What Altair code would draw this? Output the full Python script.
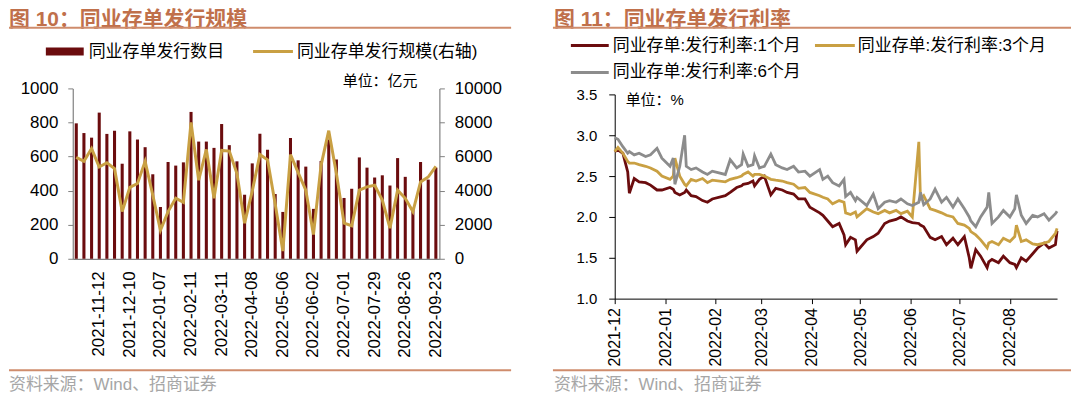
import altair as alt
import pandas as pd

# ---------------- data: 图10 ----------------
bar_dates = ["2021-10-22", "2021-10-29", "2021-11-05", "2021-11-12", "2021-11-19", "2021-11-26",
             "2021-12-03", "2021-12-10", "2021-12-17", "2021-12-24", "2021-12-31", "2022-01-07",
             "2022-01-14", "2022-01-21", "2022-01-28", "2022-02-11", "2022-02-18", "2022-02-25",
             "2022-03-04", "2022-03-11", "2022-03-18", "2022-03-25", "2022-04-01", "2022-04-08",
             "2022-04-15", "2022-04-22", "2022-04-29", "2022-05-06", "2022-05-13", "2022-05-20",
             "2022-05-27", "2022-06-02", "2022-06-10", "2022-06-17", "2022-06-24", "2022-07-01",
             "2022-07-08", "2022-07-15", "2022-07-22", "2022-07-29", "2022-08-05", "2022-08-12",
             "2022-08-19", "2022-08-26", "2022-09-02", "2022-09-09", "2022-09-16", "2022-09-23"]
bar_counts = [795, 738, 711, 858, 733, 752, 558, 748, 700, 655, 496, 304,
              568, 547, 566, 862, 688, 688, 651, 791, 667, 572, 376, 560,
              734, 640, 380, 275, 709, 578, 541, 293, 574, 700, 583, 357,
              411, 595, 535, 477, 490, 430, 591, 481, 290, 568, 465, 535]
bar_scale = [5950, 5720, 6470, 5390, 5640, 5290, 2770, 4190, 4420, 5720, 3740, 1670,
             2770, 3550, 3310, 8000, 4610, 6420, 3550, 6360, 6320, 5000, 2090, 3970,
             6120, 5810, 3220, 450, 6120, 5060, 4030, 1420, 5500, 7520, 5000, 2090,
             1940, 4030, 4220, 4320, 3450, 1800, 4030, 3550, 2770, 4510, 4800, 5430]
bar_labels = ["2021-11-12", "2021-12-10", "2022-01-07", "2022-02-11", "2022-03-11", "2022-04-08",
              "2022-05-06", "2022-06-02", "2022-07-01", "2022-07-29", "2022-08-26", "2022-09-23"]

# ---------------- data: 图11 ----------------
rate_dates = ["2021-12-01", "2021-12-03", "2021-12-06", "2021-12-09", "2021-12-10", "2021-12-13",
              "2021-12-16", "2021-12-20", "2021-12-23", "2021-12-27", "2021-12-30",
              "2022-01-04", "2022-01-06", "2022-01-07", "2022-01-10", "2022-01-13", "2022-01-14",
              "2022-01-17", "2022-01-20", "2022-01-24", "2022-01-27", "2022-01-30",
              "2022-02-07", "2022-02-10", "2022-02-14", "2022-02-17", "2022-02-18", "2022-02-21",
              "2022-02-24", "2022-02-25", "2022-02-28",
              "2022-03-03", "2022-03-07", "2022-03-10", "2022-03-14", "2022-03-17", "2022-03-21",
              "2022-03-24", "2022-03-28", "2022-03-31",
              "2022-04-06", "2022-04-08", "2022-04-11", "2022-04-14", "2022-04-18", "2022-04-21",
              "2022-04-22", "2022-04-25", "2022-04-28", "2022-04-29",
              "2022-05-05", "2022-05-09", "2022-05-12", "2022-05-16", "2022-05-19", "2022-05-23",
              "2022-05-26", "2022-05-30",
              "2022-06-02", "2022-06-06", "2022-06-07", "2022-06-09", "2022-06-13", "2022-06-16",
              "2022-06-20", "2022-06-23", "2022-06-27", "2022-06-30",
              "2022-07-04", "2022-07-07", "2022-07-08", "2022-07-11", "2022-07-14", "2022-07-18",
              "2022-07-19", "2022-07-21", "2022-07-25", "2022-07-28",
              "2022-08-01", "2022-08-04", "2022-08-05", "2022-08-08", "2022-08-11", "2022-08-15",
              "2022-08-18", "2022-08-22", "2022-08-25", "2022-08-29", "2022-08-30"]
rate_1m = [2.80, 2.82, 2.78, 2.55, 2.29, 2.47, 2.43, 2.42, 2.39, 2.33, 2.33,
           2.36, 2.34, 2.30, 2.27, 2.30, 2.33, 2.26, 2.25, 2.20, 2.18, 2.22,
           2.26, 2.30, 2.36, 2.38, 2.40, 2.41, 2.44, 2.38, 2.46,
           2.50, 2.27, 2.35, 2.33, 2.30, 2.28, 2.22, 2.22, 2.12,
           2.05, 2.02, 1.95, 1.88, 1.92, 1.78, 1.66, 1.75, 1.72, 1.58,
           1.72, 1.76, 1.80, 1.92, 1.95, 1.97, 2.00, 1.95,
           1.93, 1.92, 1.90, 1.88, 1.75, 1.72, 1.76, 1.66, 1.74, 1.66,
           1.76, 1.50, 1.37, 1.60, 1.52, 1.38, 1.45, 1.48, 1.44, 1.52,
           1.44, 1.42, 1.38, 1.50, 1.46, 1.55, 1.62, 1.68, 1.62, 1.66, 1.83]
rate_3m = [2.80, 2.85, 2.78, 2.68, 2.66, 2.66, 2.64, 2.62, 2.60, 2.56, 2.50,
           2.46, 2.50, 2.72, 2.50, 2.40, 2.38, 2.46, 2.44, 2.47, 2.42, 2.45,
           2.43, 2.46, 2.48, 2.50, 2.52, 2.55, 2.50, 2.52, 2.52,
           2.50, 2.46, 2.45, 2.44, 2.42, 2.40, 2.35, 2.36, 2.30,
           2.26, 2.24, 2.22, 2.16, 2.20, 2.18, 2.05, 2.03, 2.06, 2.00,
           2.10, 2.06, 2.04, 2.08, 2.05, 2.08, 2.04, 2.07,
           2.00, 2.92, 2.22, 2.26, 2.10, 2.08, 2.05, 2.02, 2.00, 1.92,
           1.90, 1.86, 1.82, 1.78, 1.72, 1.62, 1.68, 1.70, 1.66, 1.74,
           1.70, 1.76, 1.90, 1.70, 1.72, 1.67, 1.66, 1.68, 1.70, 1.80, 1.86]
rate_6m = [2.97, 2.95, 2.86, 2.78, 2.80, 2.76, 2.78, 2.74, 2.76, 2.84, 2.72,
           2.62, 2.72, 2.40, 2.62, 3.00, 2.62, 2.58, 2.60, 2.55, 2.52, 2.56,
           2.52, 2.70, 2.60, 2.64, 2.77, 2.62, 2.64, 2.75, 2.60,
           2.62, 2.77, 2.64, 2.60, 2.58, 2.62, 2.55, 2.56, 2.50,
           2.58, 2.46, 2.50, 2.42, 2.38, 2.46, 2.25, 2.30, 2.20, 2.24,
           2.14, 2.28, 2.10, 2.18, 2.20, 2.18, 2.22, 2.16,
           2.14, 2.18, 2.30, 2.15, 2.22, 2.34, 2.18, 2.24, 2.12, 2.22,
           2.10, 2.00, 1.95, 1.88, 2.00, 2.12, 2.30, 1.92, 2.00, 2.08,
           2.00, 2.10, 2.27, 2.02, 1.92, 2.02, 2.00, 2.04, 1.96, 2.04, 2.07]
rate_ticks = [(2021, 12), (2022, 1), (2022, 2), (2022, 3), (2022, 4), (2022, 5), (2022, 6), (2022, 7), (2022, 8)]

# ---------------- styles ----------------
FONT = "Liberation Sans, Noto Sans CJK SC"
MAROON = "#6B0C0E"
GOLD = "#C9A043"
GRAY = "#8C8C8C"
TITLE_C = "#C0704B"
RULE_C = "#CF8C6C"
FOOT_C = "#A6A6A6"
AXIS_GRAY = "#808080"

one = alt.Data(values=[{"k": 0}])


def txt(x, y, s, size, color="#000000", weight="normal", baseline="middle"):
    return alt.Chart(one).mark_text(text=s, font=FONT, fontSize=size, color=color, fontWeight=weight,
                                    align="left", baseline=baseline).encode(x=alt.value(x), y=alt.value(y))


def hrule(x1, x2, y, color, width):
    return alt.Chart(one).mark_rule(color=color, strokeWidth=width).encode(
        x=alt.value(x1), x2=alt.value(x2), y=alt.value(y))


def swatch(x1, x2, y1, y2, color):
    return alt.Chart(one).mark_rect(color=color).encode(
        x=alt.value(x1), x2=alt.value(x2), y=alt.value(y1), y2=alt.value(y2))


# ---------------- left panel ----------------
# both panels share the row's plot top (page y 94); the left value range reaches 6px above it
LW, LH = 368, 165
LRANGE = [165, -6]
bar_df = pd.DataFrame({"date": bar_dates, "count": bar_counts, "scale": bar_scale})


def xenc(band=None):
    kw = {}
    if band is not None:
        kw["bandPosition"] = band
    return alt.X("date:N", sort=None,
                 scale=alt.Scale(paddingInner=0.6, paddingOuter=0.26),
                 axis=alt.Axis(values=bar_labels, labelAngle=270, ticks=False, labelFontSize=17,
                               labelPadding=12, domainColor=AXIS_GRAY, domainWidth=1.2, title=None,
                               labelFont=FONT, labelColor="#000000"),
                 **kw)


def lyaxis(orient, vals):
    return alt.Axis(orient=orient, values=vals, format="d", title=None,
                    labelFontSize=17, tickSize=5, labelPadding=10, domainColor=AXIS_GRAY,
                    tickColor=AXIS_GRAY, domainWidth=1.2, labelFont=FONT, labelColor="#000000")


bars = alt.Chart(bar_df).mark_bar(color=MAROON).encode(
    x=xenc(),
    y=alt.Y("count:Q", scale=alt.Scale(domain=[0, 1000], nice=False, range=LRANGE),
            axis=lyaxis("left", [0, 200, 400, 600, 800, 1000])),
)
sline = alt.Chart(bar_df).mark_line(color=GOLD, strokeWidth=3).encode(
    x=xenc(0.5),
    y=alt.Y("scale:Q", scale=alt.Scale(domain=[0, 10000], nice=False, range=LRANGE),
            axis=lyaxis("right", [0, 2000, 4000, 6000, 8000, 10000])),
)
left_decor = [
    txt(-64, -86, "图 10：同业存单发行规模", 21, TITLE_C, "bold", "top"),
    hrule(-64, 440, -67, RULE_C, 2),
    swatch(-27, 11, -47, -39, MAROON),
    txt(16, -43, "同业存单发行数目", 17),
    hrule(181, 221, -43, GOLD, 3),
    txt(225, -43, "同业存单发行规模(右轴)", 17),
    txt(271, -13, "单位：亿元", 15),
    hrule(-64, 440, 277, RULE_C, 2),
    txt(-64, 292, "资料来源：Wind、招商证券", 17, FOOT_C),
]
left = alt.layer(bars, sline, *left_decor).resolve_scale(y="independent").properties(width=LW, height=LH)

# ---------------- right panel ----------------
RW, RH = 444, 205
rate_df = pd.DataFrame({"date": rate_dates, "r1": rate_1m, "r3": rate_3m, "r6": rate_6m})
tick_vals = [alt.DateTime(year=y, month=m, date=1, utc=True) for y, m in rate_ticks]
rx = alt.X("date:T",
           scale=alt.Scale(type="utc", domain=[alt.DateTime(year=2021, month=12, date=1, utc=True),
                                               alt.DateTime(year=2022, month=8, date=30, utc=True)]),
           axis=alt.Axis(values=tick_vals, labelExpr="utcFormat(datum.value, '%Y-%m')", labelAngle=270,
                         labelFontSize=16, tickSize=5, labelPadding=4, domainColor="#000000",
                         tickColor="#000000", title=None, labelFont=FONT, labelColor="#000000"))


def ry(field):
    return alt.Y(field + ":Q", scale=alt.Scale(domain=[1.0, 3.5], nice=False, zero=False),
                 axis=alt.Axis(values=[1.0, 1.5, 2.0, 2.5, 3.0, 3.5], format=".1f", title=None,
                               labelFontSize=15, tickSize=6, labelPadding=12, domainColor="#000000",
                               tickColor="#000000", labelFont=FONT, labelColor="#000000"))


l1 = alt.Chart(rate_df).mark_line(color=MAROON, strokeWidth=2.8).encode(x=rx, y=ry("r1"))
l3 = alt.Chart(rate_df).mark_line(color=GOLD, strokeWidth=2.8).encode(x=rx, y=ry("r3"))
l6 = alt.Chart(rate_df).mark_line(color=GRAY, strokeWidth=2.8).encode(x=rx, y=ry("r6"))
right_decor = [
    txt(-61, -86, "图 11：同业存单发行利率", 21, TITLE_C, "bold", "top"),
    hrule(-62, 458, -67, RULE_C, 2),
    hrule(-44, -6, -49, MAROON, 3),
    txt(-2, -49, "同业存单:发行利率:1个月", 17),
    hrule(201, 241, -49, GOLD, 3),
    txt(244, -49, "同业存单:发行利率:3个月", 17),
    hrule(-44, -6, -22, GRAY, 3),
    txt(-2, -22, "同业存单:发行利率:6个月", 17),
    txt(11, 6, "单位：%", 15),
    hrule(-62, 458, 277, RULE_C, 2),
    txt(-61, 292, "资料来源：Wind、招商证券", 17, FOOT_C),
]
right = alt.layer(l1, l3, l6, *right_decor).properties(width=RW, height=RH)

chart = alt.hconcat(left, right, spacing=40).properties(
    padding={"left": 0, "top": 0, "right": 0, "bottom": 0}
).configure_view(strokeWidth=0).configure_axis(grid=False)

chart.save("out.html", embed_options={"renderer": "svg", "actions": False})
